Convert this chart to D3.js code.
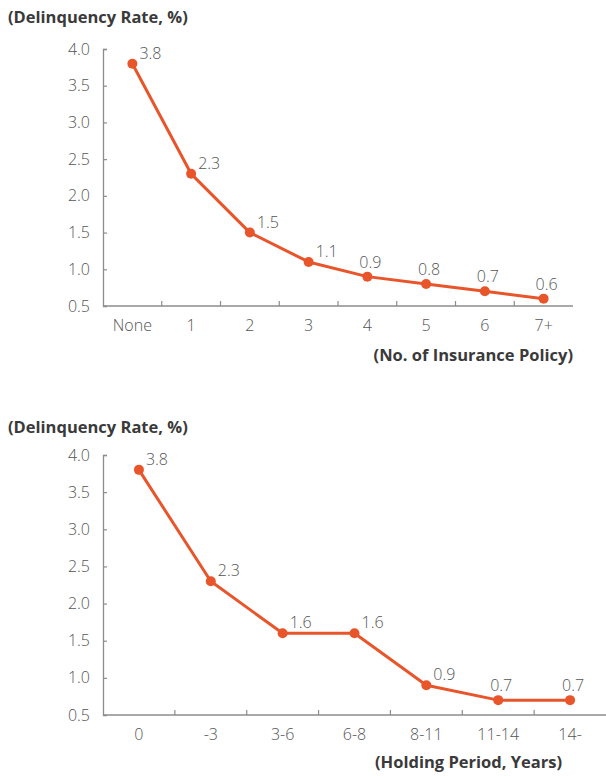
<!DOCTYPE html>
<html>
<head>
<meta charset="utf-8">
<script src="https://cdn.jsdelivr.net/npm/d3@7"></script>
<style>
  html, body { margin: 0; padding: 0; background: #fff; }
  svg { display: block; font-family: "Open Sans", "Noto Sans", sans-serif; }
</style>
</head>
<body>
<svg id="chart" width="606" height="776"></svg>
<script>
// Delinquency rate by number of insurance policies held
const policyCategories = ["None", "1", "2", "3", "4", "5", "6", "7+"];
const policyRates = [3.8, 2.3, 1.5, 1.1, 0.9, 0.8, 0.7, 0.6];

// Delinquency rate by holding period (years)
const holdingCategories = ["0", "-3", "3-6", "6-8", "8-11", "11-14", "14-"];
const holdingRates = [3.8, 2.3, 1.6, 1.6, 0.9, 0.7, 0.7];

const yTicks = [0.5, 1.0, 1.5, 2.0, 2.5, 3.0, 3.5, 4.0];
const yTitle = "(Delinquency Rate, %)";
const policyXTitle = "(No. of Insurance Policy)";
const holdingXTitle = "(Holding Period, Years)";

const LINE = "#e8552b";
const AXIS = "#8c8c8c";
const TEXT = "#555";

const svg = d3.select("#chart");

function drawPanel(cfg) {
  const g = svg.append("g");
  const x = d3.scaleBand().domain(cfg.categories).range([cfg.left, cfg.right]).paddingInner(0).paddingOuter(0);
  const y = d3.scaleLinear().domain([0.5, 4.0]).range([cfg.bottom, cfg.top]);

  // y title
  g.append("text")
    .attr("x", 8).attr("y", cfg.titleY)
    .attr("fill", "#3a3a3a")
    .attr("font-size", 16.5).attr("font-weight", 700)
    .text(yTitle);

  // y axis: ticks point inward, labels on the left
  const yAxis = d3.axisLeft(y).tickValues(yTicks).tickFormat(d3.format(".1f"))
    .tickSize(-4).tickPadding(13);
  const ya = g.append("g").attr("transform", `translate(${cfg.left},0)`).call(yAxis);
  ya.select(".domain").attr("stroke", AXIS).attr("stroke-width", 1.3);
  ya.selectAll(".tick line").attr("stroke", AXIS).attr("stroke-width", 1.2);
  ya.selectAll(".tick").filter(d => d === 0.5).select("line").remove();
  ya.selectAll(".tick text").attr("fill", TEXT).attr("font-size", 16).attr("font-weight", 300)
    .attr("font-family", "'Open Sans', sans-serif");

  // x axis: labels centred in bands, ticks at band boundaries pointing up
  const xAxis = d3.axisBottom(x).tickSize(0).tickPadding(14);
  const xa = g.append("g").attr("transform", `translate(0,${cfg.bottom})`).call(xAxis);
  xa.select(".domain").remove();
  xa.selectAll(".tick text").attr("fill", TEXT).attr("font-size", 16).attr("font-weight", 300)
    .attr("font-family", "'Open Sans', sans-serif");
  g.append("line")
    .attr("x1", cfg.left).attr("x2", cfg.right)
    .attr("y1", cfg.bottom).attr("y2", cfg.bottom)
    .attr("stroke", AXIS).attr("stroke-width", 1.3);
  g.selectAll("line.bound")
    .data(cfg.categories.slice(1))
    .join("line")
    .attr("class", "bound")
    .attr("x1", d => x(d)).attr("x2", d => x(d))
    .attr("y1", cfg.bottom).attr("y2", cfg.bottom - 5)
    .attr("stroke", AXIS).attr("stroke-width", 1.2);

  // x title
  g.append("text")
    .attr("x", cfg.xTitleX).attr("y", cfg.xTitleY)
    .attr("text-anchor", "end")
    .attr("fill", "#3a3a3a")
    .attr("font-size", 16.5).attr("font-weight", 700)
    .text(cfg.xTitle);

  const pts = cfg.categories.map((c, i) => ({ c, v: cfg.values[i], i }));
  const cx = d => x(d.c) + x.bandwidth() / 2;

  g.append("path")
    .datum(pts)
    .attr("fill", "none")
    .attr("stroke", LINE)
    .attr("stroke-width", 3)
    .attr("stroke-linejoin", "round")
    .attr("d", d3.line().x(cx).y(d => y(d.v)));

  g.selectAll("circle")
    .data(pts)
    .join("circle")
    .attr("cx", cx).attr("cy", d => y(d.v))
    .attr("r", 5).attr("fill", LINE);

  // value labels: to the upper right where the line is steep, centred above where it is flat
  const steep = d => {
    const prev = d.i > 0 ? Math.abs(cfg.values[d.i - 1] - d.v) : Infinity;
    const next = d.i < cfg.values.length - 1 ? Math.abs(d.v - cfg.values[d.i + 1]) : 0;
    return Math.max(prev, next) > 0.25;
  };
  g.selectAll("text.val")
    .data(pts)
    .join("text")
    .attr("class", "val")
    .attr("x", d => steep(d) ? cx(d) + 7 : cx(d) + 3)
    .attr("y", d => steep(d) ? y(d.v) - 5 : y(d.v) - 9)
    .attr("text-anchor", d => steep(d) ? "start" : "middle")
    .attr("fill", TEXT).attr("font-size", 16).attr("font-weight", 300)
    .text(d => d3.format(".1f")(d.v));
}

drawPanel({
  categories: policyCategories, values: policyRates,
  left: 103, right: 573, top: 49, bottom: 306,
  titleY: 23, xTitle: policyXTitle, xTitleX: 573, xTitleY: 361
});

drawPanel({
  categories: holdingCategories, values: holdingRates,
  left: 103, right: 606, top: 455, bottom: 715,
  titleY: 433, xTitle: holdingXTitle, xTitleX: 562, xTitleY: 768
});
</script>
</body>
</html>
